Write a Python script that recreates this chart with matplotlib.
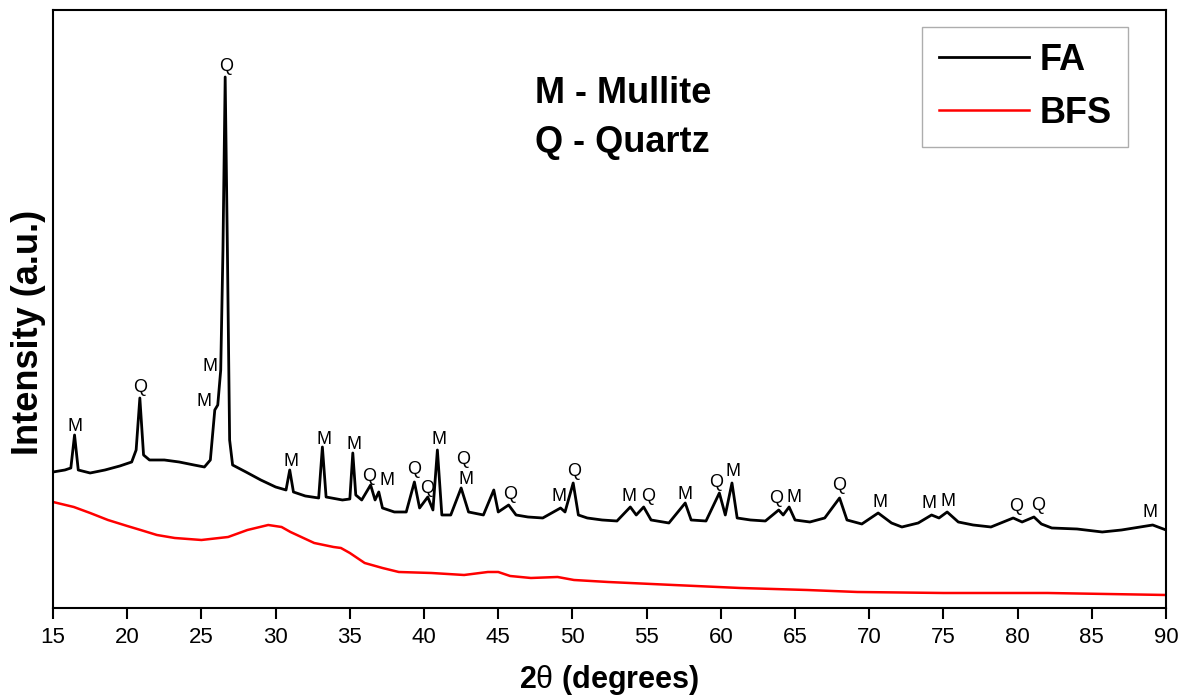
import numpy as np
import matplotlib
matplotlib.use("Agg")
import matplotlib.pyplot as plt

plt.rcParams['font.family'] = ['Liberation Sans', 'DejaVu Sans']
plt.rcParams['mathtext.fontset'] = 'custom'
plt.rcParams['mathtext.rm'] = 'Liberation Sans'

# FA pattern, traced (2theta, intensity a.u.)
fa_angle = [15.0, 15.8, 16.2, 16.45, 16.7, 17.5, 18.5, 19.5, 20.3, 20.6, 20.85, 21.1, 21.5,
            22.5, 23.5, 24.5, 25.2, 25.6, 25.9, 26.1, 26.3, 26.45, 26.6, 26.75, 26.9, 27.1,
            28.0, 29.0, 30.0, 30.7, 30.95, 31.2, 32.0, 32.9, 33.15, 33.4, 34.5, 35.0, 35.2,
            35.4, 35.8, 36.4, 36.7, 36.95, 37.2, 38.0, 38.8, 39.35, 39.7, 40.25, 40.6, 40.9,
            41.2, 41.8, 42.5, 43.0, 44.0, 44.7, 45.0, 45.7, 46.2, 47.0, 48.0, 49.2, 49.5,
            50.05, 50.4, 51.0, 52.0, 53.0, 53.9, 54.3, 54.8, 55.3, 56.5, 57.6, 58.0, 59.0,
            59.9, 60.3, 60.75, 61.1, 62.0, 63.0, 63.9, 64.2, 64.6, 65.0, 66.0, 67.0, 68.0,
            68.5, 69.5, 70.6, 71.5, 72.2, 73.3, 74.2, 74.7, 75.25, 76.0, 77.0, 78.2, 79.7,
            80.3, 81.1, 81.6, 82.3, 84.0, 85.7, 87.0, 89.1, 90.0]
fa_int = [136, 138, 140, 173, 138, 135, 138, 142, 146, 158, 210, 153, 148,
          148, 146, 143, 141, 148, 198, 203, 238, 358, 531, 358, 168, 143,
          136, 128, 121, 118, 138, 116, 112, 110, 161, 111, 108, 109, 155,
          113, 108, 123, 108, 116, 100, 96, 96, 126, 100, 111, 98, 158,
          93, 93, 120, 96, 93, 118, 96, 103, 93, 91, 90, 100, 96,
          125, 93, 90, 88, 87, 101, 93, 101, 88, 85, 105, 88, 87,
          115, 93, 125, 90, 88, 87, 98, 93, 101, 88, 86, 90, 110,
          88, 84, 95, 85, 81, 85, 93, 90, 96, 86, 83, 81, 90,
          86, 91, 84, 80, 79, 76, 78, 83, 78]

# BFS pattern, traced
bfs_angle = [15.0, 16.4, 17.5, 18.7, 20.0, 20.9, 22.0, 23.2, 25.0, 26.8, 28.1, 29.5, 30.4,
             31.0, 32.6, 33.9, 34.4, 35.0, 36.0, 37.2, 38.3, 40.5, 42.7, 44.3, 45.0, 45.8,
             47.2, 49.0, 50.1, 52.4, 56.8, 61.3, 65.8, 69.2, 75.0, 82.0, 86.0, 90.0]
bfs_int = [106, 101, 95, 88, 82, 78, 73, 70, 68, 71, 78, 83, 81,
           76, 65, 61, 60, 55, 45, 40, 36, 35, 33, 36, 36, 32,
           30, 31, 28, 26, 23, 20, 18, 16, 15, 15, 14, 13]

# phase labels: angle, letter, height
lbl_angle = [16.48, 20.86, 25.18, 25.58, 26.66, 31.04, 33.26, 35.28, 36.29, 37.5, 39.33,
             40.2, 41.01, 42.63, 42.83, 45.8, 49.1, 50.1, 53.8, 55.1, 57.6, 59.7, 60.8,
             63.7, 64.9, 68.0, 70.7, 74.0, 75.3, 79.9, 81.4, 88.9]
lbl_text = ['M', 'Q', 'M', 'M', 'Q', 'M', 'M', 'M', 'Q', 'M', 'Q',
            'Q', 'M', 'Q', 'M', 'Q', 'M', 'Q', 'M', 'Q', 'M', 'Q', 'M',
            'Q', 'M', 'Q', 'M', 'M', 'M', 'Q', 'Q', 'M']
lbl_height = [181, 220, 206, 241, 541, 146, 168, 163, 131, 127, 138,
              119, 168, 148, 128, 113, 111, 136, 111, 111, 113, 125, 136,
              109, 110, 122, 105, 104, 106, 101, 102, 95]

fig = plt.figure(figsize=(11.89, 6.99), dpi=100)
ax = fig.add_axes([0.0446, 0.1302, 0.9361, 0.8555])

ax.plot(fa_angle, fa_int, color='black', lw=2.0, label='FA')
ax.plot(bfs_angle, bfs_int, color='red', lw=1.8, label='BFS')

for a, t, h in zip(lbl_angle, lbl_text, lbl_height):
    ax.text(a, h, t, fontsize=13, ha='center', va='center')

ax.text(0.433, 0.86, 'M - Mullite', transform=ax.transAxes, fontsize=26,
        fontweight='bold', va='center')
ax.text(0.433, 0.779, 'Q - Quartz', transform=ax.transAxes, fontsize=26,
        fontweight='bold', va='center')

ax.set_xlim(15, 90)
ax.set_ylim(0, 598)
ax.set_xticks(np.arange(15, 91, 5))
ax.set_yticks([])
ax.tick_params(axis='x', direction='out', length=8, width=1.5, labelsize=16, pad=6)
for s in ax.spines.values():
    s.set_linewidth(1.5)

ax.set_xlabel(r'2$\mathrm{\theta}$ (degrees)', fontsize=22, fontweight='bold')
ax.xaxis.set_label_coords(0.5, -0.092)
ax.set_ylabel('Intensity (a.u.)', fontsize=26, fontweight='bold')
ax.yaxis.set_label_coords(-0.006, 0.46)

leg = ax.legend(loc='upper right', bbox_to_anchor=(0.966, 0.972), borderaxespad=0,
                fancybox=False, edgecolor='#999999', handlelength=2.5,
                handletextpad=0.3, borderpad=0.45, labelspacing=0.5,
                prop={'size': 26, 'weight': 'bold'})
leg.get_frame().set_linewidth(1.0)

fig.savefig('out.png', dpi=100)
